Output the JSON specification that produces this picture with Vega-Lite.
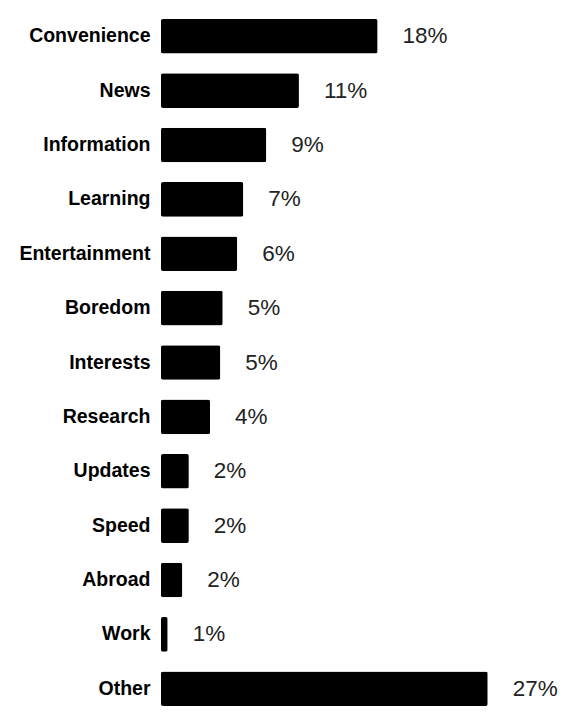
{
  "$schema": "https://vega.github.io/schema/vega-lite/v6.json",
  "autosize": {"type": "none"},
  "width": 363,
  "height": 687,
  "padding": {"left": 161, "top": 19, "right": 45, "bottom": 21},
  "background": "white",
  "config": {
    "view": {"stroke": "transparent"},
    "font": "Liberation Sans"
  },
  "data": {
    "values": [
      {"reason": "Convenience", "share": 0.179},
      {"reason": "News", "share": 0.114},
      {"reason": "Information", "share": 0.087},
      {"reason": "Learning", "share": 0.068},
      {"reason": "Entertainment", "share": 0.063},
      {"reason": "Boredom", "share": 0.051},
      {"reason": "Interests", "share": 0.049},
      {"reason": "Research", "share": 0.0405},
      {"reason": "Updates", "share": 0.023},
      {"reason": "Speed", "share": 0.023},
      {"reason": "Abroad", "share": 0.0176},
      {"reason": "Work", "share": 0.0055},
      {"reason": "Other", "share": 0.27}
    ]
  },
  "encoding": {
    "y": {
      "field": "reason",
      "type": "nominal",
      "sort": null,
      "scale": {"paddingInner": 0.365, "paddingOuter": 0},
      "axis": {
        "title": null,
        "ticks": false,
        "domain": false,
        "labelPadding": 11,
        "labelFontSize": 19.5,
        "labelFontWeight": "bold",
        "labelColor": "#000000",
        "labelFont": "Liberation Sans"
      }
    },
    "x": {
      "field": "share",
      "type": "quantitative",
      "scale": {"domain": [0, 0.3], "nice": false, "zero": true},
      "axis": null
    }
  },
  "layer": [
    {
      "mark": {"type": "bar", "color": "#000000", "cornerRadius": 2}
    },
    {
      "mark": {"type": "text", "align": "left", "baseline": "middle", "dx": 25, "fontSize": 22.5, "color": "#222222"},
      "encoding": {
        "text": {"field": "share", "type": "quantitative", "format": ".0%"}
      }
    }
  ]
}
